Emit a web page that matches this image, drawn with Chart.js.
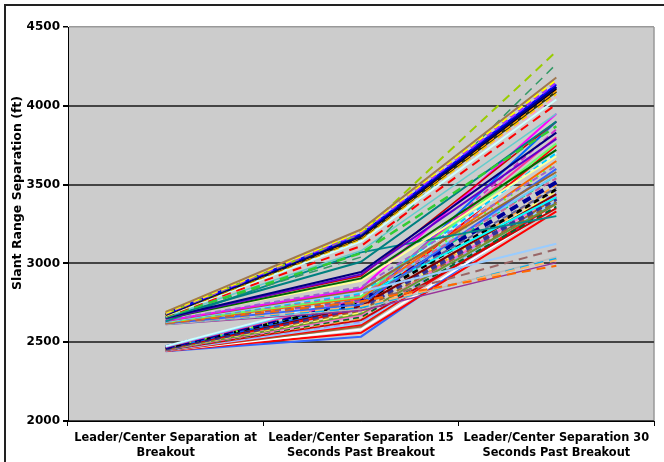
<!DOCTYPE html>
<html>
<head>
<meta charset="utf-8">
<script src="https://cdn.jsdelivr.net/npm/chart.js@4.4.1/dist/chart.umd.min.js"></script>
<style>
  html, body { margin: 0; padding: 0; background: #ffffff; }
  #wrap { width: 664px; height: 462px; }
</style>
</head>
<body>
<div id="wrap"><canvas id="c" width="664" height="462"></canvas></div>
<script>
// Three measurement times along the x axis
const categories = [
  ['Leader/Center Separation at', 'Breakout'],
  ['Leader/Center Separation 15', 'Seconds Past Breakout'],
  ['Leader/Center Separation 30', 'Seconds Past Breakout']
];
const yTicks = [2000, 2500, 3000, 3500, 4000, 4500];
const yTitle = 'Slant Range Separation (ft)';

// Slant range separation (ft) for each run, one entry per run in each array
const atBreakout = [
  2692, 2688, 2684, 2680, 2680, 2678, 2676, 2674, 2672, 2670, 2668, 2672, 2666, 2662, 2664, 2660, 2658, 2655, 2652, 2650, 2656, 2660,
  2632, 2638, 2636, 2634, 2632, 2630, 2628, 2626, 2624, 2622, 2620, 2620, 2618, 2616, 2615, 2614, 2612, 2620, 2625,
  2475, 2472, 2470, 2468, 2466, 2464, 2462, 2460, 2460, 2458, 2456, 2455, 2454, 2452, 2450, 2452, 2450, 2448, 2448, 2446, 2446, 2445, 2444, 2442, 2458
];
const after15s = [
  3215, 3208, 3198, 3190, 3185, 3178, 3170, 3165, 3160, 3152, 3140, 3172, 3110, 3065, 3040, 3080, 3010, 2945, 2930, 2905, 2890, 2920,
  3070, 2850, 2840, 2830, 2820, 2810, 2800, 2790, 2780, 2770, 2760, 2750, 2740, 2730, 2720, 2710, 2700, 2790, 2760,
  2800, 2790, 2780, 2770, 2760, 2750, 2740, 2730, 2720, 2710, 2700, 2690, 2680, 2670, 2660, 2650, 2640, 2630, 2620, 2610, 2600, 2580, 2560, 2535, 2760
];
const after30s = [
  4180, 4168, 4150, 4345, 4135, 4120, 4108, 4098, 4090, 4075, 4040, 4060, 4010, 3870, 4265, 3950, 3900, 3830, 3790, 3720, 3680, 3900,
  3300, 3620, 3950, 3580, 3125, 3700, 3540, 3760, 3650, 3480, 2985, 3090, 3600, 3020, 3030, 3040, 3005, 3420, 3850,
  3700, 3560, 3800, 3515, 3640, 3470, 3900, 3440, 3410, 3750, 3390, 3460, 3380, 3430, 3360, 3500, 3350, 3450, 3400, 3380, 3420, 3360, 3330, 3390, 3560
];

// Line styling per run
const runColors = [
  '#A07850', '#FFFF00', '#9933FF', '#99CC00', '#0000FF', '#000080', '#000000', '#FF9900', '#333300', '#FFCC00', '#CCFFFF', '#FF99CC', '#FF0000', '#33CC33', '#339966', '#66CCCC', '#008080', '#000080', '#6600CC', '#006600', '#FFFF99', '#CC0000',
  '#008B8B', '#9966CC', '#FF00FF', '#996633', '#99CCFF', '#00CCFF', '#CC6699', '#66FF66', '#FF6600', '#666699', '#FF6600', '#996666', '#3366FF', '#FFB266', '#00B0F0', '#BBBBBB', '#993399', '#00FFFF', '#CC33CC',
  '#CCFFFF', '#66CCFF', '#FF3399', '#000099', '#66FF33', '#000000', '#0066FF', '#800000', '#333399', '#FF0000', '#996633', '#FFFF66', '#669933', '#FF66CC', '#006633', '#FF9933', '#CC0000', '#9999FF', '#99CCFF', '#FF0000', '#996633', '#FFFFFF', '#FF0000', '#3366FF', '#00CC66'
];
// 0 solid, 1 dash, 2 long dash, 3 dot
const runDashes = [
  0, 1, 1, 2, 0, 0, 0, 1, 0, 1, 0, 1, 2, 2, 2, 0, 0, 0, 0, 0, 0, 0,
  0, 1, 0, 0, 0, 1, 1, 0, 0, 1, 2, 2, 0, 2, 2, 0, 0, 0, 1,
  0, 0, 0, 2, 3, 1, 0, 0, 1, 0, 1, 1, 0, 0, 1, 1, 0, 1, 0, 0, 0, 0, 0, 0, 1
];
const runWidths = [
  2, 3, 3, 2, 2, 3, 2, 2, 2, 2, 2, 2, 2, 2.5, 1.5, 1.5, 2, 2, 2, 2, 2, 1.5,
  2, 2, 2, 2, 2, 2, 2, 2, 2, 2, 2, 2, 2, 2, 2, 1.5, 1.5, 2, 2,
  2, 2, 2, 4, 3, 3, 2, 2, 4, 2, 2, 2, 2, 2, 2, 2, 2, 2, 2, 2, 2, 2, 2, 2, 2
];
const dashPatterns = [[], [6, 4], [9, 6], [2, 6]];

const datasets = atBreakout.map((v, i) => ({
  label: 'Run ' + (i + 1),
  data: [v, after15s[i], after30s[i]],
  borderColor: runColors[i],
  borderWidth: runWidths[i],
  borderDash: dashPatterns[runDashes[i]],
  pointRadius: 0,
  pointHoverRadius: 0,
  tension: 0,
  fill: false
}));

const FONT = 'DejaVu Sans';

// White page with a dark frame (top and left edges) and a grey plot area
const frame = {
  id: 'frame',
  beforeDraw(chart) {
    const { ctx, chartArea: a } = chart;
    ctx.save();
    ctx.fillStyle = '#ffffff';
    ctx.fillRect(0, 0, chart.width, chart.height);
    ctx.strokeStyle = '#222222';
    ctx.lineWidth = 2;
    ctx.beginPath();
    ctx.moveTo(5, chart.height);
    ctx.lineTo(5, 5);
    ctx.lineTo(chart.width, 5);
    ctx.stroke();
    ctx.fillStyle = '#CCCCCC';
    ctx.fillRect(a.left, a.top, a.right - a.left, a.bottom - a.top);
    ctx.strokeStyle = '#999999';
    ctx.lineWidth = 1.5;
    ctx.beginPath();
    ctx.moveTo(a.right, a.top);
    ctx.lineTo(a.right, a.bottom);
    ctx.stroke();
    ctx.restore();
  },
  afterDraw(chart) {
    const { ctx } = chart;
    ctx.save();
    ctx.translate(18, 193);
    ctx.rotate(-Math.PI / 2);
    ctx.fillStyle = '#000000';
    ctx.font = 'bold 12.5px "' + FONT + '"';
    ctx.textAlign = 'center';
    ctx.textBaseline = 'middle';
    ctx.fillText(yTitle, 0, 0);
    ctx.restore();
  }
};

new Chart(document.getElementById('c'), {
  type: 'line',
  data: { labels: categories, datasets },
  options: {
    responsive: false,
    animation: false,
    devicePixelRatio: 1,
    layout: { padding: { top: 27, right: 10, left: 0, bottom: 0 } },
    plugins: { legend: { display: false }, tooltip: { enabled: false } },
    scales: {
      x: {
        offset: true,
        grid: { drawOnChartArea: false, drawTicks: true, tickLength: 5, tickColor: '#000000', offset: true },
        border: { color: '#000000', width: 1 },
        ticks: {
          color: '#000000', padding: 5, maxRotation: 0, autoSkip: false,
          font: { family: FONT, size: 11.4, weight: 'bold', lineHeight: 1.3 }
        },
        afterFit(s) { s.height = 41; }
      },
      y: {
        min: 2000, max: 4500,
        afterBuildTicks(s) { s.ticks = yTicks.map(v => ({ value: v })); },
        grid: {
          color: c => c.tick && c.tick.value === 4500 ? '#999999' : '#444444',
          lineWidth: c => c.tick && c.tick.value === 4500 ? 1.5 : 2,
          tickColor: '#000000', tickLength: 5, drawTicks: true
        },
        border: { color: '#000000', width: 1 },
        ticks: {
          color: '#000000', padding: 3,
          font: { family: FONT, size: 12, weight: 'bold' },
          callback: v => String(v)
        },
        afterFit(s) { s.width = 68; }
      }
    }
  },
  plugins: [frame]
});
</script>
</body>
</html>
